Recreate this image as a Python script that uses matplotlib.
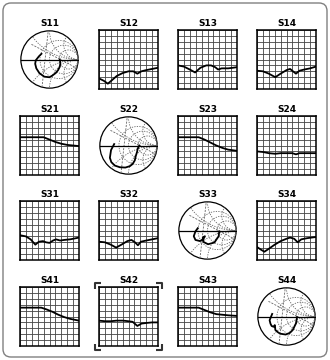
import numpy as np
import matplotlib
matplotlib.use("Agg")
import matplotlib.pyplot as plt
from matplotlib.patches import Circle, FancyBboxPatch
from matplotlib.transforms import IdentityTransform

plt.rcParams["font.family"] = ["Liberation Sans Narrow", "DejaVu Sans"]

# S-parameter layout (row-major)
names = ["S11", "S12", "S13", "S14",
         "S21", "S22", "S23", "S24",
         "S31", "S32", "S33", "S34",
         "S41", "S42", "S43", "S44"]

# rectangular traces: x positions (grid divisions 0..10) and levels
rect_x = {
    "S12": [0, 0.8, 1.5, 2.2, 3, 4, 5, 5.8, 6.5, 7.2, 8, 9, 10],
    "S13": [0, 1, 2, 2.9, 3.8, 4.8, 5.6, 6.3, 6.8, 7.4, 8.5, 9.3, 10],
    "S14": [0, 1, 2, 3.1, 4, 5, 5.6, 6.1, 6.6, 7.2, 8, 9, 10],
    "S21": [0, 1, 2, 3, 4, 5, 6, 7, 8, 9, 10],
    "S23": [0, 1, 2, 3, 3.5, 4.5, 5.5, 6.5, 7.5, 8.5, 10],
    "S24": [0, 1, 2, 3.1, 4, 5, 6, 6.6, 7.2, 8, 9, 10],
    "S31": [0, 1, 1.8, 2.6, 3.2, 3.9, 4.4, 5.0, 5.6, 6.1, 6.8, 7.5, 8.5, 10],
    "S32": [0, 1, 2, 2.9, 3.8, 4.8, 5.5, 6.1, 6.6, 7.1, 8, 9, 10],
    "S34": [0, 0.6, 1.25, 2, 3, 4, 5, 5.6, 6.3, 6.9, 7.5, 8.5, 10],
    "S41": [0, 1, 2, 3, 3.6, 4.5, 5.5, 6.5, 7.5, 8.5, 10],
    "S42": [0, 1, 2, 3, 4.1, 5, 5.7, 6.5, 7.2, 8, 9, 10],
    "S43": [0, 1, 2, 3, 3.5, 4.5, 5.5, 6.5, 7.5, 8.5, 10],
}
rect_y = {
    "S12": [1.8, 1.4, 0.9, 1.5, 2.2, 2.7, 3.0, 3.0, 2.6, 3.0, 3.2, 3.4, 3.6],
    "S13": [4.0, 3.8, 3.3, 2.8, 3.6, 4.0, 4.0, 3.7, 3.3, 3.5, 3.5, 3.6, 3.7],
    "S14": [3.1, 3.0, 2.6, 2.0, 2.6, 3.2, 3.4, 3.0, 2.6, 3.1, 3.3, 3.5, 3.8],
    "S21": [6.4, 6.4, 6.4, 6.4, 6.4, 6.0, 5.6, 5.3, 5.1, 5.0, 4.9],
    "S23": [6.4, 6.4, 6.4, 6.4, 6.4, 6.0, 5.5, 5.0, 4.6, 4.3, 4.1],
    "S24": [4.0, 3.9, 3.7, 3.6, 3.7, 3.7, 3.7, 3.5, 3.7, 3.7, 3.7, 3.7],
    "S31": [4.2, 4.0, 3.5, 2.6, 3.1, 3.2, 3.0, 2.9, 3.3, 3.5, 3.3, 3.4, 3.5, 3.8],
    "S32": [3.1, 3.0, 2.6, 2.1, 2.6, 3.2, 3.4, 3.0, 2.5, 3.1, 3.3, 3.5, 3.7],
    "S34": [2.2, 1.8, 1.4, 1.9, 2.6, 3.2, 3.6, 3.8, 3.6, 3.0, 3.5, 3.7, 3.9],
    "S41": [6.5, 6.5, 6.5, 6.5, 6.5, 6.2, 5.8, 5.3, 4.9, 4.6, 4.3],
    "S42": [4.3, 4.2, 4.2, 4.3, 4.3, 4.2, 4.1, 3.4, 3.8, 3.9, 4.0, 4.0],
    "S43": [6.5, 6.5, 6.5, 6.5, 6.5, 6.1, 5.7, 5.4, 5.3, 5.2, 5.1],
}

# Smith chart traces (reflection coefficient, real / imaginary)
smith_re = {
    "S11": [-0.28, -0.37, -0.48, -0.50, -0.46, -0.35, -0.18, 0.0, 0.10, 0.22, 0.30, 0.36, 0.38, 0.36],
    "S22": [-0.5, -0.61, -0.65, -0.60, -0.48, -0.30, -0.11, 0.05, 0.14, 0.22, 0.25, 0.30, 0.32, 0.38],
    "S33": [-0.34, -0.42, -0.48, -0.42, -0.26, -0.14, -0.09, -0.16, -0.14, 0.02, 0.24, 0.39, 0.41],
    "S44": [-0.5, -0.59, -0.56, -0.52, -0.45, -0.41, -0.40, -0.39, -0.30, -0.22, -0.03, 0.12, 0.22, 0.33, 0.37],
}
smith_im = {
    "S11": [0.20, 0.11, -0.03, -0.15, -0.31, -0.48, -0.60, -0.62, -0.56, -0.47, -0.37, -0.25, -0.12, 0.0],
    "S22": [0.05, -0.16, -0.43, -0.58, -0.70, -0.76, -0.77, -0.72, -0.65, -0.52, -0.38, -0.22, -0.11, 0.0],
    "S33": [0.08, -0.03, -0.20, -0.33, -0.37, -0.29, -0.20, -0.24, -0.40, -0.48, -0.42, -0.20, -0.03],
    "S44": [0.09, -0.13, -0.25, -0.33, -0.36, -0.30, -0.36, -0.47, -0.55, -0.60, -0.63, -0.57, -0.47, -0.24, -0.02],
}
resist = [0.5, 1.0, 2.0]
react = [0.5, 1.0, 2.0, -0.5, -1.0, -2.0]
# straight dashed guide lines on the Smith charts (start/end points)
guide_x = [[-0.63, 0.95], [-0.05, -0.26]]
guide_y = [[0.53, -0.30], [0.95, -0.95]]

W, H = 330, 360
fig = plt.figure(figsize=(W / 100, H / 100), dpi=100)

col_left = [20, 99, 178, 257]
row_top = [30, 116, 201, 287]
size = 59

# rounded outer frame
frame = FancyBboxPatch((3, 3), W - 6, H - 6, boxstyle="round,pad=0,rounding_size=8",
                       transform=IdentityTransform(), fill=False, edgecolor="#808080", lw=1.0)
fig.patches.append(frame)

for i, name in enumerate(names):
    r, c = divmod(i, 4)
    x0 = col_left[c] / W
    y0 = 1 - (row_top[r] + size) / H
    ax = fig.add_axes([x0, y0, size / W, size / H])
    ax.set_title(name, fontsize=6.5, fontweight="bold", pad=3)
    if name in smith_re:
        ax.set_xlim(-1.03, 1.03)
        ax.set_ylim(-1.03, 1.03)
        ax.set_aspect("equal")
        ax.axis("off")
        outer = Circle((0, 0), 1, fill=False, edgecolor="black", lw=0.9)
        ax.add_patch(outer)
        for rv in resist:
            p = Circle((rv / (1 + rv), 0), 1 / (1 + rv), fill=False,
                       edgecolor="#666666", lw=0.6, ls=(0, (1.5, 1.5)))
            ax.add_patch(p)
        for xv in react:
            p = Circle((1, 1 / xv), 1 / abs(xv), fill=False,
                       edgecolor="#666666", lw=0.6, ls=(0, (1.5, 1.5)))
            ax.add_patch(p)
            p.set_clip_path(outer)
        for gx, gy in zip(guide_x, guide_y):
            ax.plot(gx, gy, color="#666666", lw=0.6, ls=(0, (2.5, 1.5)))
        ax.plot([-1, 1], [0, 0], color="black", lw=0.9)
        ax.plot(smith_re[name], smith_im[name], color="black", lw=1.3)
    else:
        ax.set_xlim(0, 10)
        ax.set_ylim(0, 10)
        ax.set_xticks(range(11))
        ax.set_yticks(range(11))
        ax.tick_params(length=0, labelbottom=False, labelleft=False)
        ax.grid(True, color="#444444", lw=0.6)
        for s in ax.spines.values():
            s.set_linewidth(1.1)
        ax.plot(rect_x[name], rect_y[name], color="black", lw=1.3)
        if name == "S42":
            # selection brackets around the active trace
            ext, arm = 0.6, 1.0
            for cx, cy, dx, dy in [(-ext, -ext, 1, 1), (10 + ext, -ext, -1, 1),
                                   (-ext, 10 + ext, 1, -1), (10 + ext, 10 + ext, -1, -1)]:
                ax.plot([cx + dx * arm, cx, cx], [cy, cy, cy + dy * arm],
                        color="#333333", lw=1.5, clip_on=False, solid_capstyle="butt")

fig.savefig("out.png", dpi=100)
